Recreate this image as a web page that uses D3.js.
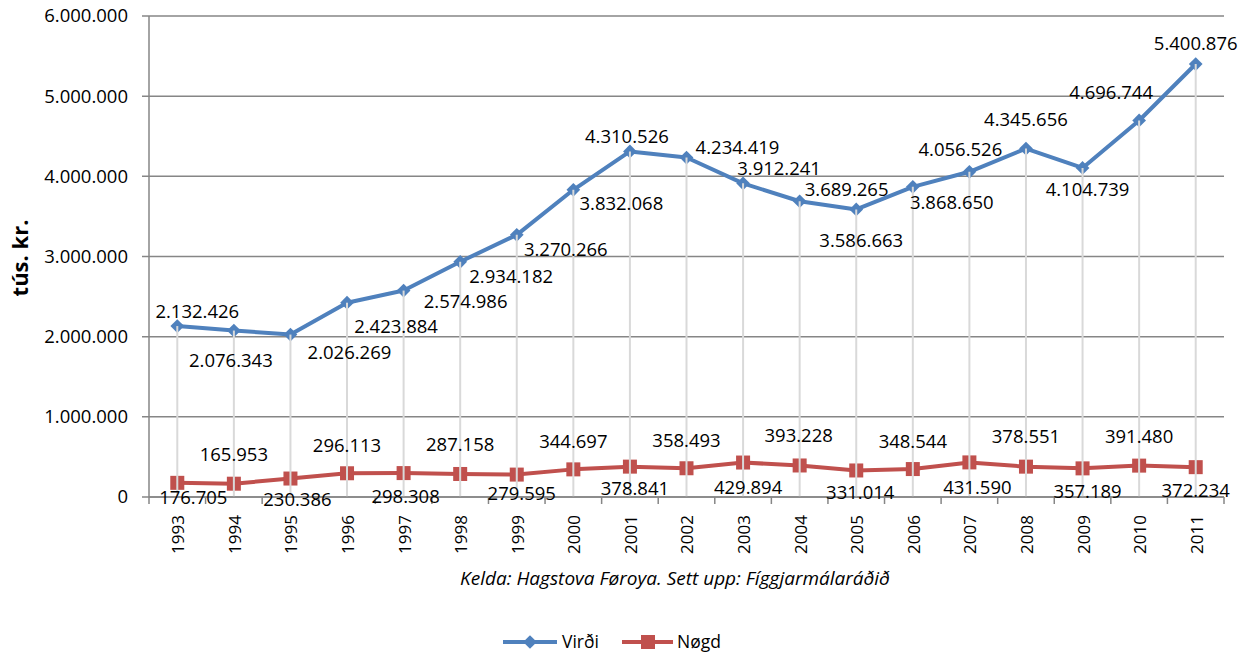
<!DOCTYPE html>
<html>
<head>
<meta charset="utf-8">
<script src="https://cdn.jsdelivr.net/npm/d3@7"></script>
<style>
  body { margin: 0; background: #fff; }
  svg { display: block; font-family: "Open Sans", sans-serif; }
</style>
</head>
<body>
<svg id="chart" width="1250" height="653"></svg>
<script>
var years = ["1993", "1994", "1995", "1996", "1997", "1998", "1999", "2000", "2001", "2002",
             "2003", "2004", "2005", "2006", "2007", "2008", "2009", "2010", "2011"]
var virdi = [2132426, 2076343, 2026269, 2423884, 2574986, 2934182, 3270266, 3832068, 4310526, 4234419,
             3912241, 3689265, 3586663, 3868650, 4056526, 4345656, 4104739, 4696744, 5400876]
var nogd = [176705, 165953, 230386, 296113, 298308, 287158, 279595, 344697, 378841, 358493,
            429894, 393228, 331014, 348544, 431590, 378551, 357189, 391480, 372234]
var yTicks = [0, 1000000, 2000000, 3000000, 4000000, 5000000, 6000000]
var seriesNames = ["Virði", "Nøgd"]
var sourceText = "Kelda: Hagstova Føroya. Sett upp: Fíggjarmálaráðið"
var yTitle = "tús. kr."

// label placement (offset from the point, px) as in the original chart
var virdiLabelOffset = [[20, -15], [-3, 30], [59, 18], [49, 24], [62, 11], [51, 15], [49, 15], [48, 14], [-3, -15], [51, -10],
                        [36, -15], [47, -12], [5, 31], [39, 16], [-9, -22], [0, -29], [5, 22], [-28, -28], [0, -21]]
var nogdLabelOffset = [[16, 15], [0, -29], [7, 21], [0, -28], [2, 23], [0, -29], [5, 19], [0, -28], [5, 22], [0, -28],
                       [5, 25], [-1, -30], [4, 22], [0, -28], [8, 25], [0, -30], [5, 23], [0, -29], [0, 23]]

var blue = "#4F81BD"
var red = "#C0504D"
var gridColor = "#868686"

var margin = { top: 16, bottom: 156, left: 149, right: 26 }
var width = 1250
var height = 653
var chartWidth = width - margin.left - margin.right
var chartHeight = height - margin.top - margin.bottom

var locale = d3.formatLocale({ decimal: ",", thousands: ".", grouping: [3], currency: ["", ""] })
var fmt = locale.format(",d")

var svg = d3.select("#chart")
var g = svg.append("g").attr("transform", `translate(${margin.left},${margin.top})`)

var xScale = d3.scaleBand().domain(years).range([0, chartWidth])
var yScale = d3.scaleLinear().domain([0, 6000000]).range([chartHeight, 0])
var cx = function (d, i) { return xScale(years[i]) + xScale.bandwidth() / 2 }

// horizontal gridlines + y tick labels
g.selectAll(".grid").data(yTicks).enter().append("line")
    .attr("x1", -7).attr("x2", chartWidth)
    .attr("y1", d => yScale(d)).attr("y2", d => yScale(d))
    .attr("stroke", gridColor).attr("stroke-width", 1.5)

g.selectAll(".ylab").data(yTicks).enter().append("text")
    .attr("x", -21).attr("y", d => yScale(d))
    .attr("dy", "0.35em").attr("text-anchor", "end")
    .attr("font-size", 18.5).attr("fill", "#000")
    .text(d => fmt(d))

// y axis line
g.append("line").attr("x1", 0).attr("x2", 0).attr("y1", 0).attr("y2", chartHeight)
    .attr("stroke", gridColor).attr("stroke-width", 1.5)

// x tick marks between categories
var bounds = years.map(y => xScale(y)).concat([chartWidth])
g.selectAll(".xtick").data(bounds).enter().append("line")
    .attr("x1", d => d).attr("x2", d => d)
    .attr("y1", chartHeight).attr("y2", chartHeight + 7)
    .attr("stroke", gridColor).attr("stroke-width", 1.5)

// year labels
g.selectAll(".xlab").data(years).enter().append("text")
    .attr("transform", (d, i) => `translate(${cx(d, i) + 1},${chartHeight + 18}) rotate(-90)`)
    .attr("text-anchor", "end").attr("dy", "0.35em")
    .attr("font-size", 17).attr("fill", "#000")
    .text(d => d)

var line = d3.line().x(cx).y(d => yScale(d))

// series lines
g.append("path").datum(nogd).attr("d", line)
    .attr("fill", "none").attr("stroke", red).attr("stroke-width", 4).attr("stroke-linejoin", "round")
g.selectAll(".sq").data(nogd).enter().append("rect")
    .attr("x", (d, i) => cx(d, i) - 7).attr("y", d => yScale(d) - 7)
    .attr("width", 14).attr("height", 14).attr("fill", red)

g.append("path").datum(virdi).attr("d", line)
    .attr("fill", "none").attr("stroke", blue).attr("stroke-width", 4).attr("stroke-linejoin", "round")
var diamond = d3.symbol().type(d3.symbolDiamond2).size(120)
g.selectAll(".dm").data(virdi).enter().append("path")
    .attr("d", diamond)
    .attr("transform", (d, i) => `translate(${cx(d, i)},${yScale(d)})`)
    .attr("fill", blue)

// drop lines from the top series to the axis
g.selectAll(".drop").data(virdi).enter().append("line")
    .attr("x1", cx).attr("x2", cx)
    .attr("y1", d => yScale(d)).attr("y2", chartHeight)
    .attr("stroke", "#d9d9d9").attr("stroke-width", 2)

// redraw x axis line over drop lines
g.append("line").attr("x1", 0).attr("x2", chartWidth).attr("y1", chartHeight).attr("y2", chartHeight)
    .attr("stroke", gridColor).attr("stroke-width", 1.5)

// data labels
g.selectAll(".vlab").data(virdi).enter().append("text")
    .attr("x", (d, i) => cx(d, i) + virdiLabelOffset[i][0])
    .attr("y", (d, i) => yScale(d) + virdiLabelOffset[i][1])
    .attr("dy", "0.35em").attr("text-anchor", "middle")
    .attr("font-size", 18.5).attr("fill", "#000")
    .text(d => fmt(d))

g.selectAll(".nlab").data(nogd).enter().append("text")
    .attr("x", (d, i) => cx(d, i) + nogdLabelOffset[i][0])
    .attr("y", (d, i) => yScale(d) + nogdLabelOffset[i][1])
    .attr("dy", "0.35em").attr("text-anchor", "middle")
    .attr("font-size", 18.5).attr("fill", "#000")
    .text(d => fmt(d))

// y axis title
svg.append("text")
    .attr("transform", `translate(20,258) rotate(-90)`)
    .attr("text-anchor", "middle").attr("dy", "0.35em")
    .attr("font-size", 22).attr("font-weight", "bold")
    .text(yTitle)

// source note
svg.append("text")
    .attr("x", 675).attr("y", 578).attr("dy", "0.35em")
    .attr("text-anchor", "middle").attr("font-size", 19).attr("font-style", "italic")
    .text(sourceText)

// legend
var legend = svg.append("g").attr("transform", "translate(503,642)")
var lg1 = legend.append("g")
lg1.append("line").attr("x1", 0).attr("x2", 54).attr("stroke", blue).attr("stroke-width", 4)
lg1.append("path").attr("d", diamond).attr("transform", "translate(27,0)").attr("fill", blue)
lg1.append("text").attr("x", 59).attr("dy", "0.35em").attr("font-size", 17.5).text(seriesNames[0])

var lg2 = legend.append("g").attr("transform", "translate(119,0)")
lg2.append("line").attr("x1", 0).attr("x2", 51).attr("stroke", red).attr("stroke-width", 4)
lg2.append("rect").attr("x", 19).attr("y", -7).attr("width", 14).attr("height", 14).attr("fill", red)
lg2.append("text").attr("x", 55).attr("dy", "0.35em").attr("font-size", 17.5).text(seriesNames[1])
</script>
</body>
</html>
